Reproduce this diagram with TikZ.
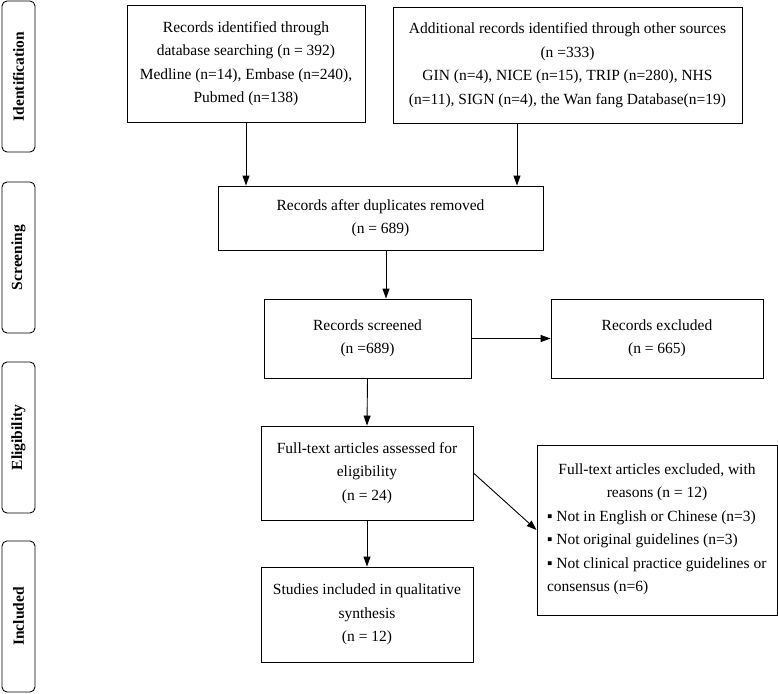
\documentclass[tikz,border=0pt]{standalone}
\usepackage{fontspec}
\setmainfont{Liberation Serif}
\usetikzlibrary{arrows.meta}
\begin{document}
\begin{tikzpicture}[x=1pt,y=-1pt]
\tikzstyle{flowbox}=[
	draw,
	line width=0.9pt,
	align=center,
	inner sep=4pt,
	font=\fontsize{15.5}{23.5}\selectfont ]
\tikzstyle{phase}=[
	draw,
	line width=0.9pt,
	rounded corners=5pt,
	rotate=90,
	minimum width=151pt,
	minimum height=33pt,
	font=\fontsize{15.5}{18}\selectfont\bfseries ]
\tikzstyle{arr}=[line width=0.9pt, -{Triangle[length=10pt,width=7pt]}]
\useasboundingbox (0,0) rectangle (778,693);
\node[phase] (ident) at (18.5,76.5) {Identification};
\node[phase] (screen) at (18.5,257.5) {Screening};
\node[phase] (elig) at (18.5,437.5) {Eligibility};
\node[phase] (incl) at (18.5,616.5) {Included};
\node[flowbox, minimum width=238pt, minimum height=117pt] (dbase) at (246,63.5)
	{Records identified through\\database searching (n = 392)\\Medline (n=14), Embase (n=240),\\Pubmed (n=138)};
\node[flowbox, minimum width=349pt, minimum height=116pt] (other) at (567.5,65)
	{Additional records identified through other sources\\(n =333)\\GIN (n=4), NICE (n=15), TRIP (n=280), NHS\\(n=11), SIGN (n=4), the Wan fang Database(n=19)};
\node[flowbox, minimum width=325pt, minimum height=64pt] (dupl) at (380.5,218)
	{Records after duplicates removed\\(n = 689)};
\node[flowbox, minimum width=207pt, minimum height=79pt] (scrn) at (367.5,338.5)
	{Records screened\\(n =689)};
\node[flowbox, minimum width=212pt, minimum height=79pt] (excl) at (657,338.5)
	{Records excluded\\(n = 665)};
\node[flowbox, minimum width=212pt, minimum height=94pt] (full) at (367,473)
	{Full-text articles assessed for\\eligibility\\(n = 24)};
\node[flowbox, minimum width=212pt, minimum height=95pt] (study) at (367,614.5)
	{Studies included in qualitative\\synthesis\\(n = 12)};
\node[flowbox, inner xsep=10pt, inner ysep=18.5pt] (reason) at (657,530)
	{\parbox[c][133pt][t]{220pt}{\raggedright
	\makebox[220pt][c]{Full-text articles excluded, with}\\
	\makebox[220pt][c]{reasons (n = 12)}\\
	▪ Not in English or Chinese (n=3)\\
	▪ Not original guidelines (n=3)\\
	▪ Not clinical practice guidelines or\\
	consensus (n=6)}};
\draw[arr] (dbase.south) -- (dbase.south |- dupl.north);
\draw[arr] ([xshift=-50.5pt]other.south) -- ([xshift=-50.5pt]other.south |- dupl.north);
\draw[arr] ([xshift=5.5pt]dupl.south) -- ([xshift=5.5pt]dupl.south |- scrn.north);
\draw[arr] (scrn.east) -- (excl.west);
\draw[arr] (scrn.south) -- (full.north);
\draw[arr] (full.south) -- (study.north);
\draw[arr] (full.east) -- (reason.west);
\end{tikzpicture}
\end{document}
